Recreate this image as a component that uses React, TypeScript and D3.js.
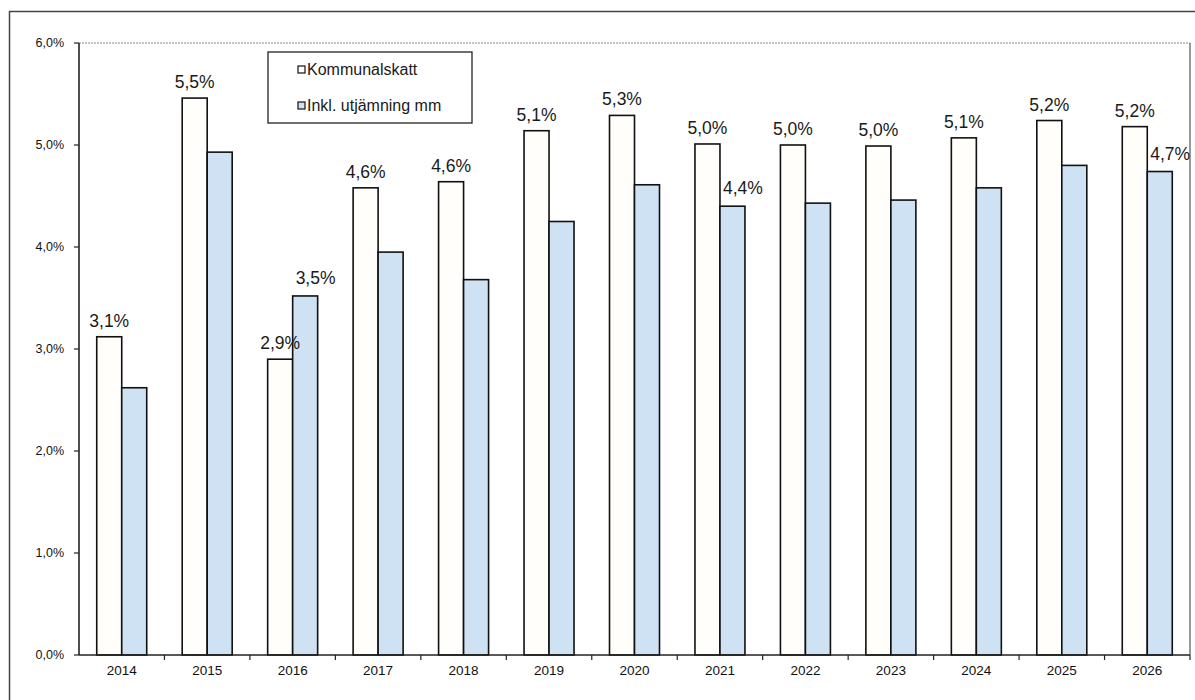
import { useEffect, useRef } from 'react';
import * as d3 from 'd3';

const years = ['2014', '2015', '2016', '2017', '2018', '2019', '2020', '2021', '2022', '2023', '2024', '2025', '2026'];
const kommunalskatt = [3.12, 5.46, 2.9, 4.58, 4.64, 5.14, 5.29, 5.01, 5.0, 4.99, 5.07, 5.24, 5.18];
const inklUtjamning = [2.62, 4.93, 3.52, 3.95, 3.68, 4.25, 4.61, 4.4, 4.43, 4.46, 4.58, 4.8, 4.74];
// which bars carry a value label
const labelWhite = [true, true, true, true, true, true, true, true, true, true, true, true, true];
const labelBlue = [false, false, true, false, false, false, false, true, false, false, false, false, true];
const yTicks = [0, 1, 2, 3, 4, 5, 6];
const seriesNames = ['Kommunalskatt', 'Inkl. utjämning mm'];

const W = 1195;
const H = 700;
const FONT = 'Arial, "Liberation Sans", sans-serif';
const WHITE = '#fffefa';
const BLUE = '#cfe2f4';

const fmt = (v: number) => v.toFixed(1).replace('.', ',') + '%';

export default function App() {
  const svgRef = useRef<SVGSVGElement>(null);

  useEffect(() => {
    if (!svgRef.current) return;
    const svg = d3.select(svgRef.current);
    svg.selectAll('*').remove();

    const left = 79;
    const right = 1190;
    const top = 43;
    const bottom = 655;

    const x = d3.scaleBand().domain(years).range([left, right]).paddingInner(0.415).paddingOuter(0.2075);
    const x1 = d3.scaleBand().domain(['a', 'b']).range([0, x.bandwidth()]);
    const y = d3.scaleLinear().domain([0, 6]).range([bottom, top]);
    const step = x.step();

    // outer frame
    svg.append('rect').attr('width', W).attr('height', H).attr('fill', '#fff');
    svg.append('path')
      .attr('d', `M9.5,${H + 5}V11.5H${W + 5}`)
      .attr('fill', 'none').attr('stroke', '#444').attr('stroke-width', 1.5);

    // plot border top / right
    svg.append('line').attr('x1', left).attr('x2', right).attr('y1', top).attr('y2', top)
      .attr('stroke', '#888').attr('stroke-width', 1).attr('stroke-dasharray', '2,1');
    svg.append('line').attr('x1', right).attr('x2', right).attr('y1', top).attr('y2', bottom)
      .attr('stroke', '#555').attr('stroke-width', 1.2);

    // bars
    const g = svg.append('g');
    years.forEach((yr, i) => {
      const x0 = x(yr) ?? 0;
      g.append('rect')
        .attr('x', x0 + (x1('a') ?? 0)).attr('y', y(kommunalskatt[i]))
        .attr('width', x1.bandwidth()).attr('height', bottom - y(kommunalskatt[i]))
        .attr('fill', WHITE).attr('stroke', '#111').attr('stroke-width', 1.6);
      g.append('rect')
        .attr('x', x0 + (x1('b') ?? 0)).attr('y', y(inklUtjamning[i]))
        .attr('width', x1.bandwidth()).attr('height', bottom - y(inklUtjamning[i]))
        .attr('fill', BLUE).attr('stroke', '#111').attr('stroke-width', 1.6);
    });

    // value labels
    const labels = svg.append('g').attr('font-family', FONT).attr('font-size', 17.5).attr('fill', '#1a1a1a');
    years.forEach((yr, i) => {
      const x0 = x(yr) ?? 0;
      if (labelWhite[i]) {
        labels.append('text')
          .attr('x', x0 + (x1('a') ?? 0) + x1.bandwidth() / 2)
          .attr('y', y(kommunalskatt[i]) - 10)
          .attr('text-anchor', 'middle')
          .text(fmt(kommunalskatt[i]));
      }
      if (labelBlue[i]) {
        labels.append('text')
          .attr('x', x0 + (x1('b') ?? 0) + 3)
          .attr('y', y(inklUtjamning[i]) - 12)
          .attr('text-anchor', 'start')
          .text(fmt(inklUtjamning[i]));
      }
    });

    // y axis
    const yAxis = svg.append('g');
    yAxis.append('line').attr('x1', left).attr('x2', left).attr('y1', top).attr('y2', bottom)
      .attr('stroke', '#222').attr('stroke-width', 1.6);
    yTicks.forEach(t => {
      yAxis.append('line').attr('x1', left - 5).attr('x2', left).attr('y1', y(t)).attr('y2', y(t))
        .attr('stroke', '#222').attr('stroke-width', 1.2);
      yAxis.append('text')
        .attr('x', left - 15).attr('y', y(t) + 4)
        .attr('text-anchor', 'end')
        .attr('font-family', FONT).attr('font-size', 12.5).attr('fill', '#111')
        .text(fmt(t));
    });

    // x axis
    const xAxis = svg.append('g');
    xAxis.append('line').attr('x1', left).attr('x2', right).attr('y1', bottom).attr('y2', bottom)
      .attr('stroke', '#222').attr('stroke-width', 1.6);
    years.forEach((yr, i) => {
      const bx = left + step * (i + 1);
      xAxis.append('line').attr('x1', bx).attr('x2', bx).attr('y1', bottom).attr('y2', bottom + 5)
        .attr('stroke', '#222').attr('stroke-width', 1.2);
      xAxis.append('text')
        .attr('x', (x(yr) ?? 0) + x.bandwidth() / 2).attr('y', bottom + 20)
        .attr('text-anchor', 'middle')
        .attr('font-family', FONT).attr('font-size', 13.5).attr('fill', '#111')
        .text(yr);
    });

    // legend
    const lg = svg.append('g');
    lg.append('rect').attr('x', 268).attr('y', 52).attr('width', 204).attr('height', 71)
      .attr('fill', '#fff').attr('stroke', '#222').attr('stroke-width', 1.3);
    seriesNames.forEach((name, i) => {
      const cy = 70 + i * 36;
      lg.append('rect').attr('x', 298).attr('y', cy - 4).attr('width', 7).attr('height', 7)
        .attr('fill', i === 0 ? WHITE : BLUE).attr('stroke', '#111').attr('stroke-width', 1.2);
      lg.append('text').attr('x', 307).attr('y', cy + 5)
        .attr('font-family', FONT).attr('font-size', 16).attr('fill', '#1a1a1a')
        .text(name);
    });
  }, []);

  return (
    <svg
      ref={svgRef}
      width={W}
      height={H}
      style={{ position: 'absolute', left: 0, top: 0, display: 'block' }}
    />
  );
}
